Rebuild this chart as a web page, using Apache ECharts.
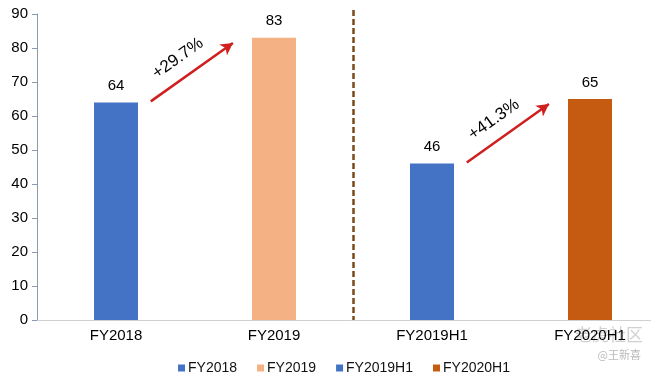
<!DOCTYPE html>
<html>
<head>
<meta charset="utf-8">
<script src="https://cdn.jsdelivr.net/npm/echarts@6/dist/echarts.min.js"></script>
<style>
  html, body { margin: 0; padding: 0; background: #fff; }
  #chart { width: 651px; height: 377px; }
</style>
</head>
<body>
<div id="chart"></div>
<script>
var categories = ['FY2018', 'FY2019', 'FY2019H1', 'FY2020H1'];
var values = [64, 83, 46, 65];
var barColors = ['#4472c4', '#f4b183', '#4472c4', '#c55a11'];
// growth arrows: [from index, to index, label]
var growth = [[0, 1, '+29.7%'], [2, 3, '+41.3%']];

var font = '"Liberation Sans", Arial, sans-serif';
var chart = echarts.init(document.getElementById('chart'));

var series = categories.map(function (name, i) {
    return {
        name: name,
        type: 'bar',
        stack: 'all',
        barWidth: 44,
        itemStyle: { color: barColors[i] },
        label: {
            show: true,
            position: 'top',
            distance: 9,
            color: '#000',
            fontSize: 15,
            fontFamily: font
        },
        data: categories.map(function (c, j) { return j === i ? values[i] : null; })
    };
});

var option = {
    animation: false,
    grid: { left: 37, top: 14, height: 306, width: 632, containLabel: false, outerBoundsMode: 'none' },
    legend: {
        top: 356,
        left: 173,
        icon: 'rect',
        itemWidth: 7,
        itemHeight: 7,
        itemGap: 20,
        itemStyle: { borderWidth: 0 },
        textStyle: { fontSize: 14, color: '#111', fontFamily: font, padding: [0, 0, 0, -2] },
        data: categories
    },
    xAxis: {
        type: 'category',
        data: categories,
        axisLine: { lineStyle: { color: '#d0d0d0', width: 1 } },
        axisTick: { show: false },
        axisLabel: { fontSize: 15, color: '#000', fontFamily: font, margin: 8 }
    },
    yAxis: {
        type: 'value',
        min: 0,
        max: 90,
        interval: 10,
        splitLine: { show: false },
        axisLine: { show: true, lineStyle: { color: '#8a9bb0' } },
        axisTick: { show: true, length: 5, lineStyle: { color: '#8a9bb0' } },
        axisLabel: { fontSize: 15, color: '#000', fontFamily: font, margin: 9 }
    },
    series: series
};
chart.setOption(option);

// annotations placed through the axes
function px(cat, val) {
    var a = chart.convertToPixel({ xAxisIndex: 0 }, categories[Math.floor(cat)]);
    var b = chart.convertToPixel({ xAxisIndex: 0 }, categories[Math.min(Math.floor(cat) + 1, categories.length - 1)]);
    var x = a + (b - a) * (cat - Math.floor(cat));
    var y = chart.convertToPixel({ yAxisIndex: 0 }, val);
    return [x, y];
}

var graphics = [];
var lineData = [];
growth.forEach(function (g) {
    var p0 = px(g[0] + 0.22, values[g[0]] + 0.3);
    var p1 = px(g[0] + 0.74, values[g[1]] - 1.5);
    lineData.push([{ x: p0[0], y: p0[1] }, { x: p1[0], y: p1[1] }]);
    var dx = p1[0] - p0[0], dy = p1[1] - p0[1];
    var len = Math.sqrt(dx * dx + dy * dy);
    var nx = dy / len, ny = -dx / len;
    var mx = (p0[0] + p1[0]) / 2 + nx * 17 - 4, my = (p0[1] + p1[1]) / 2 + ny * 17;
    graphics.push({
        type: 'text',
        x: mx, y: my,
        rotation: Math.atan2(-dy, dx),
        style: {
            text: g[2],
            fontSize: 17,
            fill: '#000',
            fontFamily: font,
            align: 'center',
            verticalAlign: 'middle'
        }
    });
});

// dashed divider between the two periods
var xa = chart.convertToPixel({ xAxisIndex: 0 }, categories[1]);
var xb = chart.convertToPixel({ xAxisIndex: 0 }, categories[2]);
var xd = Math.round((xa + xb) / 2) + 0.5;
var yTop = chart.convertToPixel({ yAxisIndex: 0 }, 90) - 4;
var yBot = chart.convertToPixel({ yAxisIndex: 0 }, 0);
graphics.push({
    type: 'line',
    shape: { x1: xd, y1: yTop, x2: xd, y2: yBot },
    style: { stroke: '#7a4a1c', lineWidth: 2.5, lineDash: [6, 3] }
});

// watermark
graphics.push({
    type: 'text', right: 8, top: 326,
    style: { text: '老虎社区', fontSize: 17, fill: 'rgba(170,170,170,0.55)', fontFamily: '"Noto Sans CJK SC"' }
});
graphics.push({
    type: 'text', right: 10, top: 349,
    style: { text: '@王新喜', fontSize: 11, fill: '#bbb', fontFamily: '"Noto Sans CJK SC"' }
});

chart.setOption({
    graphic: graphics,
    series: [{
        name: categories[0],
        markLine: {
            silent: true,
            symbol: ['none', 'arrow'],
            symbolSize: [10, 12],
            label: { show: false },
            lineStyle: { color: '#d01f1f', width: 2.5, type: 'solid' },
            data: lineData
        }
    }]
});
</script>
</body>
</html>
